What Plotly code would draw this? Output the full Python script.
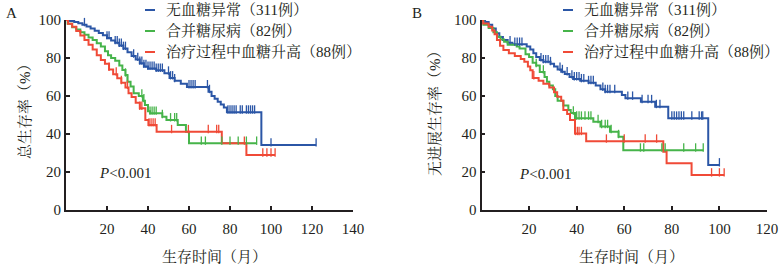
import numpy as np
import plotly.graph_objects as go

BLUE = "#2b56a6"
GREEN = "#46b44a"
RED = "#f04a37"
INK = "#231f20"
FONT = "Liberation Serif, Noto Serif CJK SC, Noto Sans CJK SC, serif"

legend_names = ["无血糖异常（311例）", "合并糖尿病（82例）", "治疗过程中血糖升高（88例）"]

# ---------- Panel A: overall survival ----------
a_blue_t = [0, 2, 4, 6, 8, 10, 12, 14, 16, 18, 20, 22, 24, 26, 28, 30, 32, 34, 36, 38, 40, 44, 48, 50.5, 53, 56, 59, 69.5, 71, 72.5, 74, 75.5, 77, 78.5, 95.3, 122]
a_blue_s = [100, 99.5, 99, 98.3, 97.5, 96.6, 95.5, 94.3, 93.2, 92, 90.5, 89.2, 88, 86.6, 85, 83, 81, 79.2, 77.2, 75.5, 74.5, 73.5, 72, 69.5, 68, 66.5, 64.8, 62.3, 60, 58.5, 57, 55.5, 54, 51.5, 34.2, 34.2]
a_blue_c = [9, 20, 21, 24, 25, 26, 27, 28, 29, 33, 35, 36, 37, 38, 39, 40, 41, 42, 43, 44, 45, 46, 47, 50, 51, 52, 53, 60, 61, 62, 63, 69, 70, 79, 80, 81, 82, 83, 85, 86, 88, 89, 90, 91, 92, 100, 122]

a_green_t = [0, 0.8, 3, 5, 7, 9, 11, 13, 15, 17, 19, 20.5, 22, 24, 26, 27.5, 29, 30, 31.5, 33, 35.5, 37.5, 38.5, 40, 41, 47, 49, 54.5, 58.5, 60, 93]
a_green_s = [100, 98, 96.2, 95, 93.5, 92.2, 90.8, 89.5, 87.8, 86, 83.5, 81.5, 80, 78.5, 76, 73.7, 71, 67.5, 65, 61.5, 60, 57.5, 55.3, 52, 50.9, 49.1, 47.4, 44.7, 41.2, 35.1, 35.1]
a_green_c = [29, 30, 37, 38, 41, 42, 43, 44, 47, 51, 53, 54, 66, 68, 76, 80, 84, 88, 93]

a_red_t = [0, 1, 3, 5, 7, 9, 11, 13, 15, 17, 19, 21, 23, 25, 27, 29, 30.5, 32, 34, 36, 38.7, 40.2, 44.2, 76, 88, 102]
a_red_s = [100, 98, 96.5, 94.2, 91.8, 89.5, 87, 84.5, 81.5, 79, 77, 74, 71.5, 69.3, 67, 64.5, 61.5, 59.5, 56.5, 53.5, 47.4, 44.7, 41.2, 35.1, 28.9, 28.9]
a_red_c = [21, 24.5, 27, 30, 36, 37, 40.5, 41.5, 42.5, 43.5, 51.5, 59.7, 69.4, 73.5, 74.5, 87, 96, 98, 100, 102]

# ---------- Panel B: progression-free survival ----------
b_blue_t = [0, 1.5, 3, 4.5, 6, 7.5, 9, 11, 13, 19, 20.5, 21.8, 23, 24.5, 26, 29, 30.5, 32, 33.5, 35, 37, 38.5, 41.5, 45, 48, 50, 52, 59, 60.5, 67, 73, 78.5, 95.3, 100]
b_blue_s = [100, 99, 97.5, 95.5, 93, 91, 89.5, 88, 87.2, 86, 84.5, 82.5, 80.5, 79, 78, 77, 75.5, 74, 72.8, 71.6, 70, 69, 68, 67, 65.5, 63.5, 62.3, 60.5, 58.8, 57, 54.4, 48.3, 23.7, 23.7]
b_blue_c = [12, 14, 15, 16, 17, 25, 26, 27, 28, 29, 33, 34, 36, 38, 39, 40, 41, 42, 43, 45, 46, 47, 51, 52, 53, 54, 56, 61.5, 63.5, 67.5, 70, 71.5, 73.5, 75, 80, 81, 82, 83, 84, 85, 88.4, 91.5, 92.5, 93, 100]

b_green_t = [0, 0.8, 3, 5, 6.5, 8, 9.5, 11, 14.8, 16, 18.5, 20, 21.5, 23, 24.5, 26.5, 27.5, 28.5, 30, 31, 32, 34.4, 36.5, 37.5, 39.3, 47, 50, 54, 57.6, 59.6, 93.2]
b_green_s = [100, 97.5, 95.8, 93.5, 91.2, 89.8, 88.5, 87, 86, 85, 82, 80.5, 77.5, 76, 72.6, 70, 67.5, 65.5, 63.5, 60, 57.5, 55, 52.6, 51, 48.3, 46.5, 43.9, 41.2, 38.6, 31.5, 31.5]
b_green_c = [23, 26, 38.6, 40, 41, 42, 43.5, 45, 46, 49, 50.5, 52, 53, 54.5, 57.6, 66.8, 68.2, 75.8, 77.2, 85, 90, 93.2]

b_red_t = [0, 0.7, 3, 4.5, 5.5, 6.5, 7.8, 9.2, 11.5, 14, 16.5, 18, 19.5, 20.5, 21.5, 24, 26, 28.5, 30.5, 31.8, 33.5, 34.4, 36, 37.2, 39.3, 44, 76.4, 77.8, 88.3, 102]
b_red_s = [100, 98.2, 96.5, 94.5, 92.5, 89.5, 86.5, 84.2, 82.5, 81, 79.5, 78, 75.5, 73.5, 69.5, 68, 66.5, 64.5, 62, 59.6, 57.5, 52.6, 50.5, 47.4, 40.2, 36.2, 30.7, 24.6, 18.4, 18.4]
b_red_c = [22, 39.5, 40.3, 41, 42, 52.5, 60, 68.8, 73.6, 96.7, 100, 102]

a_xticks = [20, 40, 60, 80, 100, 120, 140]
b_xticks = [20, 40, 60, 80, 100, 120]
yticks = [0, 20, 40, 60, 80, 100]


def step_at(ts, ss, t):
    i = int(np.searchsorted(np.asarray(ts), t, side="right")) - 1
    return ss[max(i, 0)]


W, H = 780, 265


def px_x(p):
    return p / W


def px_y(p):
    return 1 - p / H


fig = go.Figure()
panels = [
    ("x", "y", [(a_blue_t, a_blue_s, a_blue_c, BLUE), (a_green_t, a_green_s, a_green_c, GREEN), (a_red_t, a_red_s, a_red_c, RED)], 145, 164),
    ("x2", "y2", [(b_blue_t, b_blue_s, b_blue_c, BLUE), (b_green_t, b_green_s, b_green_c, GREEN), (b_red_t, b_red_s, b_red_c, RED)], 563, 582),
]
row_y = [10, 31, 52]
for xa, ya, curves, key_x, text_x in panels:
    for ts, ss, cs, col in curves:
        fig.add_trace(go.Scatter(x=ts, y=ss, mode="lines", xaxis=xa, yaxis=ya,
                                 line=dict(shape="hv", color=col, width=2), showlegend=False, hoverinfo="skip"))
    for ts, ss, cs, col in curves:
        cy = [step_at(ts, ss, t) + 1.4 for t in cs]
        fig.add_trace(go.Scatter(x=cs, y=cy, mode="markers", xaxis=xa, yaxis=ya, cliponaxis=False,
                                 marker=dict(symbol="line-ns", size=6, line=dict(color=col, width=1.3)),
                                 showlegend=False, hoverinfo="skip"))
    # legend keys + labels
    for (ts, ss, cs, col), name, ry in zip(curves, legend_names, row_y):
        fig.add_shape(type="line", xref="paper", yref="paper",
                      x0=px_x(key_x), x1=px_x(key_x + 10), y0=px_y(ry), y1=px_y(ry),
                      line=dict(color=col, width=2))
        fig.add_annotation(text=name, xref="paper", yref="paper", x=px_x(text_x), y=px_y(ry),
                           xanchor="left", yanchor="middle", showarrow=False,
                           font=dict(family=FONT, size=15, color=INK))

axis_common = dict(showline=True, linecolor=INK, linewidth=1.8, ticks="inside", ticklen=4,
                   tickwidth=1.5, tickcolor=INK, showgrid=False, zeroline=False, automargin=False,
                   tickfont=dict(family=FONT, size=15, color=INK))

fig.update_layout(
    width=W, height=H, margin=dict(l=0, r=0, t=0, b=0, autoexpand=False),
    paper_bgcolor="white", plot_bgcolor="white", showlegend=False,
    font=dict(family=FONT, size=15, color=INK),
    xaxis=dict(domain=[px_x(66), px_x(353)], range=[0, 140], tickvals=a_xticks, anchor="y",
               ticklabelstandoff=4, **axis_common),
    yaxis=dict(domain=[1 - 210 / H, 1 - 20 / H], range=[0, 100], tickvals=yticks, anchor="x", **axis_common),
    xaxis2=dict(domain=[px_x(481.5), px_x(767)], range=[0, 120], tickvals=b_xticks, anchor="y2",
                ticklabelstandoff=4, **axis_common),
    yaxis2=dict(domain=[1 - 210 / H, 1 - 20 / H], range=[0, 100], tickvals=yticks, anchor="x2", **axis_common),
)

ann = [
    dict(text="A", x=px_x(11), y=px_y(13)),
    dict(text="B", x=px_x(417), y=px_y(13)),
    dict(text="总生存率（%）", x=px_x(25), y=px_y(107), textangle=-90),
    dict(text="无进展生存率（%）", x=px_x(435), y=px_y(110), textangle=-90),
    dict(text="生存时间（月）", x=px_x(214), y=px_y(257)),
    dict(text="生存时间（月）", x=px_x(631), y=px_y(257)),
    dict(text="<i>P</i><0.001", x=px_x(97), y=px_y(173), xanchor="left"),
    dict(text="<i>P</i><0.001", x=px_x(517), y=px_y(174), xanchor="left"),
]
for a in ann:
    base = dict(xref="paper", yref="paper", showarrow=False, xanchor="center", yanchor="middle",
                font=dict(family=FONT, size=15, color=INK))
    base.update(a)
    fig.add_annotation(**base)

fig.write_html("out.html", config={"displayModeBar": False},
               post_script="document.body.style.margin='0';document.body.style.padding='0';document.body.style.overflow='hidden';")
